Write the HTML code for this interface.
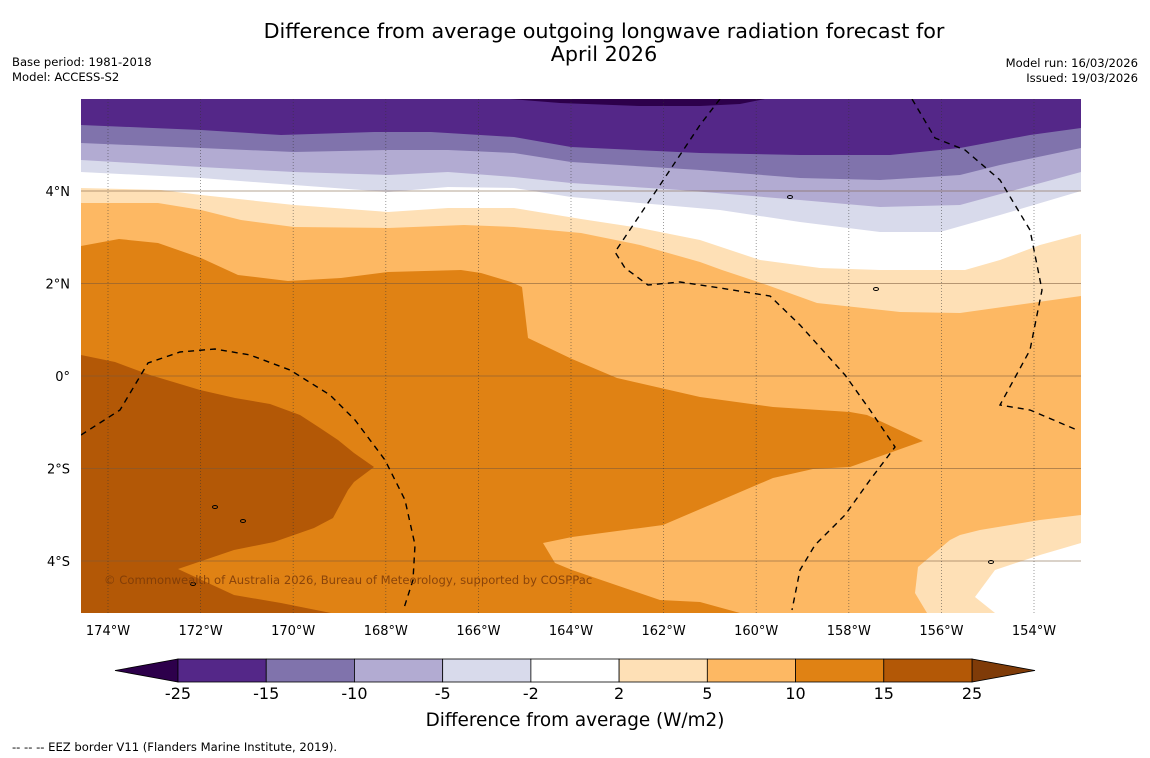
<!DOCTYPE html>
<html><head><meta charset="utf-8"><style>
html,body{margin:0;padding:0;background:#fff;}
svg{display:block;font-family:"DejaVu Sans","Liberation Sans",sans-serif;}
</style></head><body>
<svg id="chart" width="1150" height="758" viewBox="0 0 1150 758" xmlns="http://www.w3.org/2000/svg">
<rect width="1150" height="758" fill="#ffffff"/>
<text x="604" y="38" font-size="20.7" text-anchor="middle" fill="#000">Difference from average outgoing longwave radiation forecast for</text>
<text x="604" y="61" font-size="20.7" text-anchor="middle" fill="#000">April 2026</text>
<text x="12" y="66" font-size="11.6">Base period: 1981-2018</text>
<text x="12" y="81" font-size="11.6">Model: ACCESS-S2</text>
<text x="1138" y="67" font-size="11.6" text-anchor="end">Model run: 16/03/2026</text>
<text x="1138" y="82" font-size="11.6" text-anchor="end">Issued: 19/03/2026</text>
<defs><clipPath id="plotclip"><rect x="81" y="99" width="1000" height="514"/></clipPath></defs>
<g id="plot" clip-path="url(#plotclip)"></g>
<g id="axes"></g>
<g id="cbar"></g>
<text x="104" y="584" font-size="11.6" fill="#7a3a08" fill-opacity="0.85">© Commonwealth of Australia 2026, Bureau of Meteorology, supported by COSPPac</text>
<text x="575" y="726" font-size="18.4" text-anchor="middle">Difference from average (W/m2)</text>
<text x="12" y="751" font-size="11.6">--  --  -- EEZ border V11 (Flanders Marine Institute, 2019).</text>
</svg>
<script>
const levels = [-25,-15,-10,-5,-2,2,5,10,15,25];
const levelLabels = ["-25","-15","-10","-5","-2","2","5","10","15","25"];
const bandColors = ["#2d004b","#542788","#8073ac","#b2abd2","#d8daeb","#ffffff","#fee0b6","#fdb863","#e08214","#b35806","#7f3b08"];
const lonTicks = [-174,-172,-170,-168,-166,-164,-162,-160,-158,-156,-154];
const lonLabels = ["174°W","172°W","170°W","168°W","166°W","164°W","162°W","160°W","158°W","156°W","154°W"];
const latTicks = [4,2,0,-2,-4];
const latLabels = ["4°N","2°N","0°","2°S","4°S"];
// contour boundaries (map geometry, screen space of the map frame)
const bnd_m15 = [[81,125],[201,130],[281,135],[374,132],[431,132],[514,137],[571,147],[700,153],[800,155],[890,155],[960,148],[1030,135],[1081,128]];
const bnd_m10 = [[81,143],[201,148],[294,152],[388,150],[448,150],[514,153],[571,162],[700,170],[800,178],[880,180],[960,175],[1000,165],[1081,148]];
const bnd_m5 = [[81,160],[201,167],[294,172],[388,175],[448,172],[514,177],[571,183],[680,190],[800,200],[880,207],[960,205],[1081,172]];
const bnd_m2 = [[81,172],[201,178],[294,185],[388,192],[448,187],[514,188],[571,197],[640,203],[720,210],[800,222],[880,232],[940,232],[1000,215],[1081,191]];
const bnd_p2 = [[81,188],[161,190],[201,195],[294,205],[388,212],[448,208],[514,208],[581,219],[640,228],[700,240],[760,260],[820,268],[880,270],[965,270],[1000,260],[1040,245],[1081,234]];
const bnd_p5 = [[81,203],[158,203],[201,210],[241,220],[294,227],[388,228],[464,225],[514,227],[581,233],[640,245],[700,262],[722,270],[767,285],[817,303],[900,312],[960,313],[1081,296]];
const blob_m25 = [[510,99],[560,103],[640,106],[700,106],[740,104],[765,99]];
const region_p10 = [[81,246],[119,239],[158,243],[201,258],[238,275],[288,281],[341,278],[388,272],[461,270],[481,273],[511,282],[522,287],[528,338],[572,359],[617,378],[700,397],[773,407],[850,412],[867,415],[923,441],[850,467],[813,469],[773,478],[663,525],[572,537],[543,543],[555,563],[572,570],[660,600],[700,602],[740,613],[81,613]];
const region_p15 = [[81,355],[115,362],[150,375],[200,390],[235,398],[270,404],[300,415],[320,428],[338,440],[354,453],[374,467],[354,482],[348,490],[333,518],[314,528],[274,542],[234,550],[178,569],[234,595],[281,603],[331,613],[81,613]];
const region_se_p2 = [[1081,515],[1040,520],[980,530],[960,535],[950,540],[918,567],[915,593],[927,613],[1081,613]];
const region_se_m2 = [[1081,543],[1040,555],[995,570],[975,597],[995,613],[1081,613]];
const eez1 = [[720,99],[700,125],[660,185],[615,252],[625,268],[648,285],[680,282],[720,288],[770,296],[800,325],[845,375],[870,410],[895,447],[870,480],[845,515],[815,545],[800,570],[792,610]];
const eez2 = [[912,99],[935,138],[965,150],[1000,180],[1030,230],[1042,290],[1030,350],[1000,405],[1030,410],[1077,430]];
const eez3 = [[81,435],[120,410],[148,363],[180,352],[215,349],[250,355],[290,370],[330,395],[355,420],[385,460],[405,500],[415,545],[413,580],[404,608]];

const NS="http://www.w3.org/2000/svg";
const X0=81,X1=1081,Y0=99,Y1=613;
function xLon(l){return 108+(l+174)*46.3;}
function yLat(l){return 191-(l-4)*46.25;}
function pts(a){return a.map(p=>p[0]+","+p[1]).join(" ");}
function mk(parent,tag,attrs){const e=document.createElementNS(NS,tag);for(const k in attrs)e.setAttribute(k,attrs[k]);parent.appendChild(e);return e;}
const plot=document.getElementById('plot');
let r=mk(plot,'rect',{x:X0,y:Y0,width:X1-X0,height:Y1-Y0,fill:bandColors[7]});


function above(b){return [[X0,Y0]].concat(b).concat([[X1,Y0]]);}
const tops=[[bnd_p5,6,'band-2-5'],[bnd_p2,5,'band-neutral'],[bnd_m2,4,'band-m5-m2'],[bnd_m5,3,'band-m10-m5'],[bnd_m10,2,'band-m15-m10'],[bnd_m15,1,'band-m25-m15']];
tops.forEach(t=>{
  const p=mk(plot,'polygon',{points:pts(above(t[0])),fill:bandColors[t[1]]});
  
  
});
const regs=[[blob_m25,0,'band-below-m25'],[region_p10,8,'band-10-15'],[region_p15,9,'band-15-25'],[region_se_p2,6,'band-2-5-southeast'],[region_se_m2,5,'band-neutral-southeast']];
regs.forEach(t=>{
  const p=mk(plot,'polygon',{points:pts(t[0]),fill:bandColors[t[1]]});
  
  
});
latTicks.forEach(l=>{
  const g=mk(plot,'line',{x1:X0,x2:X1,y1:yLat(l),y2:yLat(l),stroke:'#7a5a3a','stroke-opacity':0.55,'stroke-width':1});
  
  
});
lonTicks.forEach(l=>{
  const g=mk(plot,'line',{x1:xLon(l),x2:xLon(l),y1:Y0,y2:Y1,stroke:'#333','stroke-opacity':0.6,'stroke-width':0.8,'stroke-dasharray':'1,2'});
  
  
});
[eez1,eez2,eez3].forEach(e=>{
  const p=mk(plot,'polyline',{points:pts(e),fill:'none',stroke:'#000','stroke-width':1.4,'stroke-dasharray':'6,5'});
  
  
});
[[215,507],[243,521],[193,584],[790,197],[876,289],[991,562]].forEach(c=>{
  const i=mk(plot,'ellipse',{cx:c[0],cy:c[1],rx:2.5,ry:1.5,fill:'none',stroke:'#000','stroke-width':1});
  
  
});
const axes=document.getElementById('axes');
lonTicks.forEach((l,i)=>{
  const t=mk(axes,'text',{x:xLon(l),y:635,'font-size':13,'text-anchor':'middle'});
  t.textContent=lonLabels[i];
  
  
});
latTicks.forEach((l,i)=>{
  const t=mk(axes,'text',{x:70,y:yLat(l)+5,'font-size':13,'text-anchor':'end'});
  t.textContent=latLabels[i];
  
  
});
const cb=document.getElementById('cbar');
const CB0=178,CB1=972,CBY=659,CBH=23;
function cbx(i){return CB0+(CB1-CB0)*i/(levels.length-1);}
let tl=mk(cb,'polygon',{points:`${CB0},${CBY} ${CB0},${CBY+CBH} 115,${CBY+CBH/2}`,fill:bandColors[0],stroke:'#000','stroke-width':0.8});


let tr=mk(cb,'polygon',{points:`${CB1},${CBY} ${CB1},${CBY+CBH} 1035,${CBY+CBH/2}`,fill:bandColors[10],stroke:'#000','stroke-width':0.8});


for(let i=0;i<levels.length-1;i++){
  const b=mk(cb,'rect',{x:cbx(i),y:CBY,width:cbx(i+1)-cbx(i),height:CBH,fill:bandColors[i+1],stroke:'#000','stroke-width':0.8});
  
  
}
levels.forEach((v,i)=>{
  const t=mk(cb,'text',{x:cbx(i),y:699,'font-size':16,'text-anchor':'middle'});
  t.textContent=levelLabels[i];
  
  
});
</script>
</body></html>
